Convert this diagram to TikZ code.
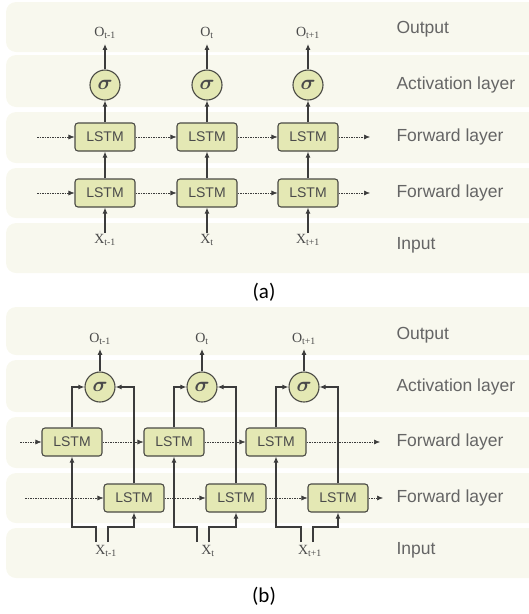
\documentclass[tikz,border=0pt]{standalone}
\usepackage{fontspec}
\usepackage{bm}
\setmainfont{Liberation Serif}
\setsansfont{Liberation Sans}
\newfontfamily\capfont{Carlito}
\usetikzlibrary{arrows.meta,positioning}
\definecolor{RowFill}{HTML}{F8F8EE}
\definecolor{CellFill}{HTML}{E4E8B4}
\definecolor{CellEdge}{HTML}{4A4A44}
\definecolor{WireInk}{HTML}{3C3C3C}
\definecolor{LabelInk}{HTML}{4A4A4A}
\tikzset{
  every node/.style={text=LabelInk},
  band/.style={fill=RowFill, draw=none, rounded corners=10pt},
  rowname/.style={anchor=west, text=LabelInk!85, font=\sffamily\fontsize{17.5}{19}\selectfont},
  cell/.style={draw=CellEdge, line width=1.1pt, fill=CellFill, rounded corners=3pt,
    minimum width=60pt, minimum height=28pt, inner sep=0pt,
    font=\sffamily\fontsize{14}{16}\selectfont},
  gate/.style={circle, draw=CellEdge, line width=1.1pt, fill=CellFill, minimum size=30pt,
    inner sep=0pt, font=\fontsize{21}{22}\selectfont},
  term/.style={inner sep=1pt, font=\fontsize{14}{16}\selectfont},
  panel/.style={text=black, font=\capfont\fontsize{21}{23}\selectfont},
  flow/.style={-{Latex[length=6pt,width=5pt]}, draw=WireInk, line width=1.1pt},
  carry/.style={-{Latex[length=6pt,width=5pt]}, draw=WireInk, line width=0.6pt,
    dash pattern=on 1.5pt off 1pt},
}
\begin{document}
\begin{tikzpicture}[x=1pt,y=-1pt]
  \useasboundingbox (0,0) rectangle (529,614);
  \clip (0,0) rectangle (529,614);
  % Row backgrounds, top to bottom
  \foreach \t/\b in {2/52, 55/107, 112/163, 168/218, 223/273,
                     307/355, 360/412, 417/468, 473/523, 528/578}
    \path[band] (6,\t) rectangle (545,\b);
  \foreach \y/\txt in {29/Output, 85/Activation layer, 137/Forward layer,
                       193/Forward layer, 245/Input,
                       335/Output, 387/Activation layer, 442/Forward layer,
                       498/Forward layer, 550/Input}
    \node[rowname] at (393,\y) {\txt};

  % (a) stacked LSTM
  \foreach \i/\x/\s in {1/105/{t-1}, 2/207/t, 3/308/{t+1}}{
    \node[term] (inA\i) at (\x,240) {X\textsubscript{\s}};
    \node[cell] (lowA\i) at (\x,193) {LSTM};
    \node[cell] (upA\i) at (\x,137) {LSTM};
    \node[gate] (sigA\i) at (\x,85) {$\bm{\sigma}$};
    \node[term] (outA\i) at (\x,33) {O\textsubscript{\s}};
    \draw[flow] (inA\i) -- (lowA\i);
    \draw[flow] (lowA\i) -- (upA\i);
    \draw[flow] (upA\i) -- (sigA\i);
    \draw[flow, shorten >=4pt] (sigA\i) -- (outA\i);
  }
  \coordinate (upAin) at (37,137);
  \coordinate (upAout) at (370,137);
  \coordinate (lowAin) at (37,193);
  \coordinate (lowAout) at (370,193);
  \draw[carry] (upAin) -- (upA1);
  \draw[carry] (upA1) -- (upA2);
  \draw[carry] (upA2) -- (upA3);
  \draw[carry] (upA3) -- (upAout);
  \draw[carry] (lowAin) -- (lowA1);
  \draw[carry] (lowA1) -- (lowA2);
  \draw[carry] (lowA2) -- (lowA3);
  \draw[carry] (lowA3) -- (lowAout);
  \node[panel] (capA) at (264,292) {(a)};

  % (b) split-input LSTM
  \foreach \i/\x/\g/\s/\l/\r in {1/72/100/{t-1}/96/108, 2/174/202/t/197/209,
                                 3/276/304/{t+1}/301/313}{
    \node[term] (inB\i) at (\g+6,551) {X\textsubscript{\s}};
    \node[cell] (upB\i) at (\x,442) {LSTM};
    \node[cell] (lowB\i) at (\x+62,498) {LSTM};
    \node[gate] (sigB\i) at (\g,387) {$\bm{\sigma}$};
    \node[term] (outB\i) at (\g,339) {O\textsubscript{\s}};
    \coordinate (stubL\i) at (\l,542);
    \coordinate (stubR\i) at (\r,542);
    \draw[flow] (stubL\i) -- ++(0,-15) -| (upB\i.south);
    \draw[flow] (stubR\i) -- ++(0,-15) -| (lowB\i.south);
    \draw[flow] (upB\i.north) |- (sigB\i.west);
    \draw[flow] (lowB\i.north) |- (sigB\i.east);
    \draw[flow, shorten >=3pt] (sigB\i) -- (outB\i);
  }
  \coordinate (upBin) at (20,442);
  \coordinate (upBout) at (380,442);
  \coordinate (lowBin) at (25,498);
  \coordinate (lowBout) at (383,498);
  \draw[carry] (upBin) -- (upB1);
  \draw[carry] (upB1) -- (upB2);
  \draw[carry] (upB2) -- (upB3);
  \draw[carry] (upB3) -- (upBout);
  \draw[carry] (lowBin) -- (lowB1);
  \draw[carry] (lowB1) -- (lowB2);
  \draw[carry] (lowB2) -- (lowB3);
  \draw[carry] (lowB3) -- (lowBout);
  \node[panel] (capB) at (264,596) {(b)};
\end{tikzpicture}
\end{document}
